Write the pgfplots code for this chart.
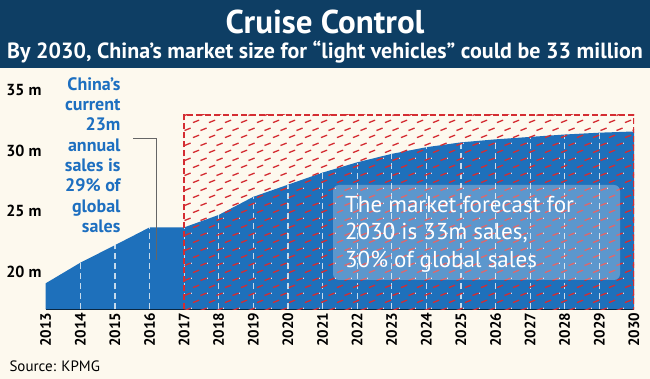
\documentclass[border=0pt]{standalone}
\usepackage{pgfplots}
\pgfplotsset{compat=1.18}
\usepackage{fontspec}
\setmainfont{PT Sans}
\usetikzlibrary{patterns.meta}
\definecolor{cream}{RGB}{253,249,238}
\definecolor{navy}{RGB}{14,62,100}
\definecolor{areablue}{RGB}{30,112,187}
\definecolor{textblue}{RGB}{29,111,192}
\definecolor{hatchred}{RGB}{212,45,50}
\tikzdeclarepattern{
  name=redhatch,
  type=colored,
  bottom left={(0bp,0bp)},
  top right={(16bp,15bp)},
  tile size={(16bp,15bp)},
  code={
    \draw[line width=1.4bp, color=hatchred] (1bp,1.5bp) -- (7.5bp,4.1bp);
    \draw[line width=1.4bp, color=hatchred] (9bp,9bp) -- (15.5bp,11.6bp);
  }
}
\pgfplotstableread{
x y
2013 19.05
2014 20.75
2015 22.2
2016 23.67
2017 23.67
2018 24.7
2019 26.2
2020 27.2
2021 28.2
2022 29.05
2023 29.75
2024 30.3
2025 30.7
2026 30.95
2027 31.15
2028 31.35
2029 31.5
2030 31.6
}\sales
\pgfplotstableread{
x y
2014 20.75
2015 22.2
2016 23.67
2017 23.67
2018 24.7
2019 26.2
2020 27.2
2021 28.2
2022 29.05
2023 29.75
2024 30.3
2025 30.7
2026 30.95
2027 31.15
2028 31.35
2029 31.5
}\combs
\begin{document}
\begin{tikzpicture}
\fill[cream] (0,0) rectangle (650bp,379bp);
\fill[navy] (0,311bp) rectangle (650bp,379bp);
\node[white, font=\fontsize{33bp}{35bp}\selectfont\bfseries] at (325bp,357bp) {Cruise Control};
\node[white, font=\fontsize{22bp}{24bp}\selectfont\bfseries] at (325bp,327bp) {By 2030, China’s market size for “light vehicles” could be 33 million};
\node[anchor=west, black, font=\fontsize{15bp}{17bp}\selectfont] at (6bp,13bp) {Source: KPMG};
\begin{axis}[
  at={(45.7bp,69.7bp)}, anchor=south west,
  scale only axis, width=588.3bp, height=225bp,
  xmin=2013, xmax=2030, ymin=16.9, ymax=35.5,
  axis x line=bottom, axis y line=left,
  x axis line style={line width=2.2bp, black, -},
  y axis line style={draw=none},
  tick style={draw=none},
  xtick={2013,...,2030},
  ytick={20,25,30,35},
  yticklabels={20 m,25 m,30 m,35 m},
  /pgf/number format/1000 sep={},
  /pgf/number format/assume math mode=true,
  xticklabel style={rotate=90, anchor=east, font=\fontsize{15bp}{17bp}\selectfont\bfseries, inner sep=1bp, yshift=0bp},
  yticklabel style={anchor=east, font=\fontsize{16bp}{18bp}\selectfont\bfseries, inner sep=2bp},
  clip mode=individual,
]
\addplot[fill=areablue, draw=none] table {\sales} \closedcycle;
\addplot[ycomb, draw=white, draw opacity=0.75, line width=1.2bp, dash pattern=on 6bp off 4bp, mark=none] table {\combs};
\addplot[pattern=redhatch, draw=none] coordinates {(2017,33) (2030,33)} \closedcycle;
\addplot[hatchred, line width=2bp, dash pattern=on 6bp off 3bp, mark=none] coordinates {(2017,16.9) (2017,33) (2030,33) (2030,16.9)};
\draw[gray!80!black, line width=1bp] (axis cs:2015.53,31.05) -- (axis cs:2016.19,31.05) -- (axis cs:2016.19,20.97);
\end{axis}
\node[anchor=north east, align=right, textblue, font=\fontsize{18bp}{20.3bp}\selectfont\bfseries] at (124bp,305bp) {China’s\\current\\23m\\annual\\sales is\\29\% of\\global\\sales};
\fill[white, fill opacity=0.28, rounded corners=6bp] (333bp,194bp) rectangle (620bp,99bp);
\node[anchor=north west, align=left, white, font=\fontsize{23bp}{27.5bp}\selectfont, inner sep=0pt] at (345bp,183bp) {The market forecast for\\2030 is 33m sales,\\30\% of global sales};
\end{tikzpicture}
\end{document}
